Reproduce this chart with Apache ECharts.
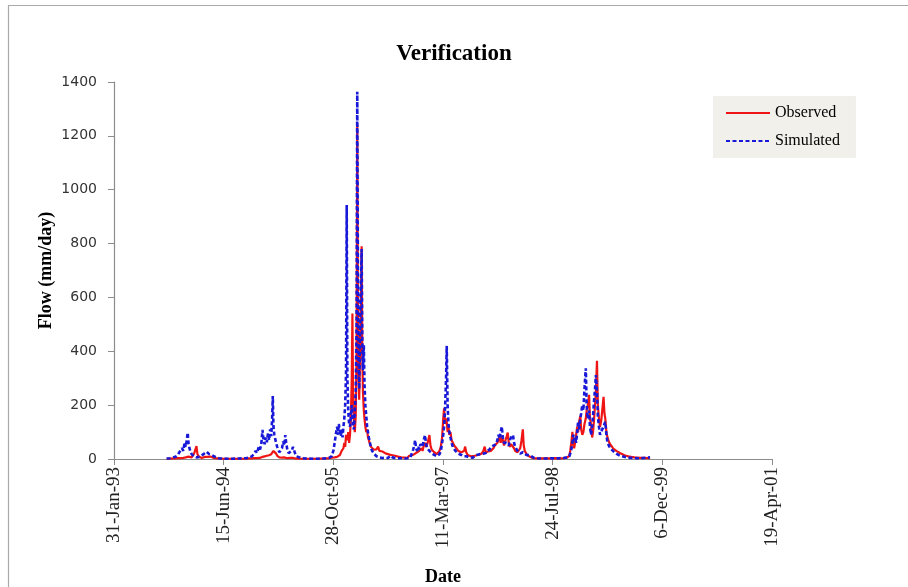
<!DOCTYPE html>
<html>
<head>
<meta charset="utf-8">
<title>Verification</title>
<script src="https://cdn.jsdelivr.net/npm/echarts@6/dist/echarts.min.js"></script>
<style>
  html, body { margin: 0; padding: 0; background: #ffffff; }
  #chart { width: 908px; height: 587px; }
</style>
</head>
<body>
<div id="chart"></div>
<script>
// Daily flow, verification period. Dates are spreadsheet serial day numbers
// (34000 = 31-Jan-1993), flows in mm/day.
const daySerial = [
  34240, 34255, 34268, 34280, 34290, 34298, 34304, 34310, 34316, 34322,
  34327, 34332, 34336, 34340, 34344, 34349, 34354, 34360, 34366, 34371,
  34376, 34380, 34385, 34392, 34400, 34408, 34415, 34422, 34428, 34434,
  34440, 34447, 34455, 34465, 34478, 34495, 34515,
  34540, 34570, 34600, 34615, 34628, 34638, 34646, 34652, 34660, 34666,
  34672, 34677, 34682, 34687, 34692, 34697, 34702, 34707, 34712, 34717,
  34721, 34724, 34727, 34731, 34735, 34739, 34744, 34749, 34754, 34760,
  34766, 34771, 34776, 34781, 34785, 34790, 34796, 34803, 34810, 34816,
  34821, 34826, 34832, 34840, 34855, 34875,
  34900, 34930, 34960, 34980, 34992, 35000, 35006, 35012, 35017, 35021,
  35025, 35030, 35034, 35038, 35042, 35046, 35050, 35054, 35058, 35061,
  35064, 35068, 35072, 35076, 35080, 35084, 35087, 35090, 35094, 35098,
  35102, 35106, 35109, 35112, 35115, 35118, 35121, 35125, 35129, 35132,
  35135, 35139, 35142, 35146, 35150, 35154, 35158, 35162, 35167, 35172,
  35177, 35183, 35190, 35197, 35204, 35210, 35216, 35224, 35232, 35240,
  35250, 35260, 35270, 35282, 35295, 35310, 35325, 35338,
  35345, 35350, 35358, 35364, 35369, 35373, 35377, 35382, 35387, 35392,
  35397, 35402, 35407, 35412, 35418, 35423, 35428, 35433, 35438, 35443,
  35448, 35454, 35460, 35466, 35472, 35478, 35484, 35490, 35496, 35501,
  35505, 35510, 35514, 35517, 35521, 35525, 35529, 35534, 35539, 35545,
  35551, 35557, 35563, 35570, 35577, 35584, 35590, 35596, 35601, 35606,
  35612, 35620, 35628, 35636, 35644, 35652, 35660, 35668, 35676, 35684,
  35690, 35695, 35700, 35706, 35712, 35718, 35724, 35730, 35736, 35742,
  35748, 35753, 35758, 35763, 35768, 35773, 35778, 35783, 35789, 35795,
  35800, 35805, 35810, 35815, 35819, 35824, 35829, 35835, 35840, 35846,
  35852, 35858, 35864, 35868, 35873, 35880, 35888, 35896, 35904, 35915,
  35930, 35950, 35970, 35990, 36010, 36030, 36050, 36065,
  36070, 36076, 36080, 36085, 36090, 36094, 36098, 36102, 36107, 36112,
  36116, 36121, 36126, 36130, 36135, 36140, 36145, 36151, 36155, 36160,
  36166, 36170, 36175, 36180, 36184, 36189, 36193, 36197, 36202, 36206,
  36211, 36216, 36221, 36226, 36232, 36236, 36240, 36245, 36250, 36256,
  36262, 36268, 36275, 36282, 36290, 36298, 36307, 36316, 36325, 36335,
  36345, 36358, 36372, 36386, 36400, 36415, 36430, 36444
];

const observed = [
  1, 1, 2, 2, 3, 4, 3, 5, 4, 8,
  6, 10, 12, 9, 14, 8, 6, 10, 22, 35,
  48, 20, 10, 6, 4, 6, 8, 10, 8, 12,
  9, 6, 4, 3, 2, 1, 1,
  1, 1, 1, 2, 2, 3, 4, 3, 5, 4,
  6, 8, 7, 10, 8, 12, 10, 14, 12, 18,
  20, 22, 30, 26, 34, 20, 12, 8, 6, 4,
  5, 4, 6, 5, 4, 3, 3, 4, 3, 4,
  3, 2, 2, 1, 1, 1,
  1, 1, 2, 3, 5, 8, 6, 10, 8, 12,
  10, 15, 20, 30, 25, 40, 60, 45, 90, 80,
  70, 100, 60, 90, 150, 300, 540, 250, 140, 100,
  160, 400, 1240, 600, 300, 220, 350, 500, 790, 400,
  250, 180, 150, 120, 100, 110, 80, 70, 55, 45,
  40, 35, 30, 36, 46, 30, 26, 28, 22, 20,
  18, 15, 14, 12, 9, 6, 5, 4,
  12, 10, 14, 10, 18, 22, 15, 25, 20, 30,
  24, 40, 30, 50, 60, 45, 55, 70, 89, 50,
  35, 28, 25, 20, 18, 25, 30, 45, 80, 150,
  188, 130, 150, 140, 100, 120, 90, 100, 70, 60,
  50, 45, 38, 30, 35, 25, 20, 30, 46, 25,
  15, 12, 10, 8, 12, 10, 15, 12, 20, 30,
  46, 25, 20, 28, 25, 30, 35, 40, 50, 45,
  60, 70, 80, 60, 85, 70, 50, 65, 80, 98,
  60, 45, 55, 50, 60, 40, 30, 35, 25, 30,
  40, 70, 110, 50, 30, 20, 12, 8, 5, 3,
  2, 2, 2, 2, 3, 2, 3, 5,
  5, 12, 30, 60, 101, 50, 40, 60, 90, 120,
  100, 140, 160, 110, 90, 100, 130, 150, 180, 200,
  238, 150, 130, 80, 100, 150, 200, 250, 365, 200,
  150, 120, 140, 180, 231, 170, 150, 100, 80, 65,
  55, 50, 40, 35, 30, 25, 22, 18, 15, 12,
  10, 8, 6, 5, 4, 4, 3, 3
];

const simulated = [
  2, 3, 5, 8, 14, 25, 18, 40, 30, 62,
  45, 72, 98, 55, 40, 26, 18, 12, 9, 7,
  6, 5, 6, 8, 12, 18, 22, 27, 24, 18,
  20, 14, 10, 6, 3, 2, 1,
  1, 2, 3, 5, 10, 18, 30, 22, 45, 35,
  60, 108, 70, 55, 80, 62, 95, 70, 110, 85,
  150, 234, 120, 90, 75, 60, 45, 35, 25, 20,
  40, 65, 50, 89, 60, 35, 22, 18, 30, 45,
  38, 20, 10, 6, 3, 2,
  1, 1, 2, 4, 10, 30, 60, 95, 120, 90,
  130, 100, 85, 110, 80, 120, 150, 200, 320, 943,
  300, 180, 130, 120, 160, 200, 150, 120, 110, 180,
  250, 500, 1364, 700, 380, 260, 420, 600, 780, 450,
  330, 423, 280, 200, 160, 120, 100, 80, 60, 40,
  30, 22, 15, 10, 8, 6, 5, 4, 8, 5,
  4, 12, 6, 4, 3, 3, 2, 3,
  3, 5, 20, 35, 50, 70, 40, 30, 45, 35,
  55, 60, 45, 70, 89, 55, 40, 35, 30, 25,
  22, 18, 15, 12, 10, 14, 18, 30, 60, 90,
  120, 200, 300, 420, 200, 130, 100, 80, 60, 45,
  40, 30, 28, 20, 18, 15, 12, 10, 12, 10,
  8, 6, 8, 5, 10, 15, 12, 18, 14, 20,
  18, 22, 30, 25, 35, 45, 40, 50, 45, 55,
  70, 90, 75, 100, 120, 80, 60, 55, 60, 65,
  50, 70, 80, 75, 89, 60, 45, 40, 30, 25,
  20, 18, 25, 20, 18, 15, 10, 14, 8, 4,
  3, 2, 2, 3, 2, 3, 4, 6,
  5, 10, 20, 35, 60, 90, 70, 80, 60, 100,
  140, 110, 150, 170, 200, 180, 260, 337, 200, 150,
  180, 120, 90, 120, 160, 220, 260, 312, 250, 160,
  120, 90, 100, 110, 120, 130, 138, 90, 60, 50,
  40, 35, 30, 25, 20, 15, 12, 10, 8, 6,
  5, 4, 4, 3, 3, 4, 5, 6
];

// Axis ticks every 500 days, labelled as d-Mon-yy.
const xTickSerials = [34000, 34500, 35000, 35500, 36000, 36500, 37000];
const yTicks = [0, 200, 400, 600, 800, 1000, 1200, 1400];

const MONTHS = ['Jan', 'Feb', 'Mar', 'Apr', 'May', 'Jun', 'Jul', 'Aug', 'Sep', 'Oct', 'Nov', 'Dec'];
function serialToLabel(serial) {
  const d = new Date((serial - 25569) * 86400000);
  const yy = String(d.getUTCFullYear() % 100).padStart(2, '0');
  return d.getUTCDate() + '-' + MONTHS[d.getUTCMonth()] + '-' + yy;
}

const obsData = daySerial.map((s, i) => [s, observed[i]]);
const simData = daySerial.map((s, i) => [s, simulated[i]]);

const serif = 'Liberation Serif, Times New Roman, serif';

const chart = echarts.init(document.getElementById('chart'), null, { renderer: 'canvas' });
chart.setOption({
  animation: false,
  backgroundColor: '#ffffff',
  graphic: [{
    type: 'rect',
    shape: { x: 8.5, y: 5.5, width: 1000, height: 1000 },
    style: { fill: 'none', stroke: '#a9a9a9', lineWidth: 1.2 },
    silent: true
  }],
  title: {
    text: 'Verification',
    left: 'center',
    top: 38,
    textStyle: { fontFamily: serif, fontWeight: 'bold', fontSize: 23, color: '#000' }
  },
  legend: {
    left: 713,
    top: 96,
    orient: 'vertical',
    backgroundColor: '#f2f0eb',
    padding: [9, 16, 9, 12],
    itemWidth: 44,
    itemHeight: 14,
    itemGap: 12,
    itemStyle: { opacity: 0 },
    textStyle: { fontFamily: serif, fontSize: 16, color: '#000' },
    data: ['Observed', 'Simulated']
  },
  grid: { left: 114, right: 136, top: 82, bottom: 128, containLabel: false, outerBoundsMode: 'none' },
  xAxis: {
    type: 'value',
    min: xTickSerials[0],
    max: xTickSerials[xTickSerials.length - 1],
    interval: xTickSerials[1] - xTickSerials[0],
    name: 'Date',
    nameLocation: 'middle',
    nameGap: 109,
    nameMoveOverlap: false,
    nameTextStyle: { fontFamily: serif, fontWeight: 'bold', fontSize: 18, color: '#000' },
    axisLine: { lineStyle: { color: '#8c8c8c', width: 1.2 } },
    axisTick: { show: true, length: 6, lineStyle: { color: '#8c8c8c' } },
    splitLine: { show: false },
    axisLabel: {
      rotate: 90,
      margin: 8,
      fontFamily: serif,
      fontSize: 19,
      color: '#222',
      formatter: serialToLabel
    }
  },
  yAxis: {
    type: 'value',
    min: yTicks[0],
    max: yTicks[yTicks.length - 1],
    interval: yTicks[1] - yTicks[0],
    name: 'Flow (mm/day)',
    nameLocation: 'middle',
    nameRotate: 90,
    nameGap: 59,
    nameMoveOverlap: false,
    nameTextStyle: { fontFamily: serif, fontWeight: 'bold', fontSize: 18, color: '#000' },
    axisLine: { show: true, lineStyle: { color: '#8c8c8c', width: 1.2 } },
    axisTick: { show: true, length: 6, lineStyle: { color: '#8c8c8c' } },
    splitLine: { show: false },
    axisLabel: {
      margin: 17,
      fontFamily: 'DejaVu Sans, sans-serif',
      fontSize: 14,
      color: '#333',
      formatter: (v) => String(v)
    }
  },
  series: [
    {
      name: 'Observed',
      type: 'line',
      data: obsData,
      symbol: 'none',
      z: 2,
      lineStyle: { color: '#f01515', width: 2.2 },
      itemStyle: { color: '#f01515' }
    },
    {
      name: 'Simulated',
      type: 'line',
      data: simData,
      symbol: 'none',
      z: 3,
      lineStyle: { color: '#1818d8', width: 2.6, type: [4, 2.5] },
      itemStyle: { color: '#1818d8' }
    }
  ]
});
</script>
</body>
</html>
